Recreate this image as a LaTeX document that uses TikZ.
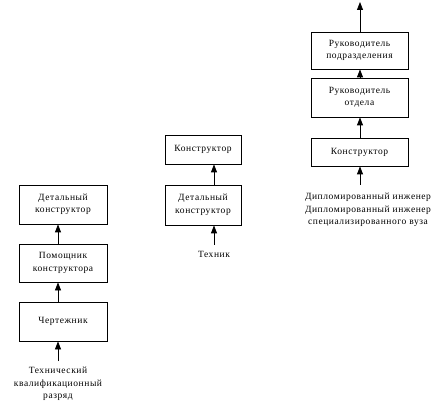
\documentclass[tikz,border=0pt]{standalone}
\usepackage{fontspec}
\setmainfont{Liberation Serif}
\newfontfamily\lblfont{Liberation Serif}[LetterSpace=6]
\usetikzlibrary{arrows.meta}
\begin{document}
\begin{tikzpicture}[x=1pt,y=-1pt,
  box/.style={draw,line width=0.8pt,minimum height=#1,inner sep=0pt,align=center,font=\lblfont\fontsize{9.5}{12.5}\selectfont},
  lbl/.style={align=center,inner sep=0pt,font=\lblfont\fontsize{9.5}{12.5}\selectfont},
  arr/.style={line width=0.8pt,-{Triangle[width=6pt,length=8pt]}}]
\useasboundingbox (0,0) rectangle (445,409);
% left column
\node[box=39pt,minimum width=88pt] (l1) at (63,204.5) {Детальный\\конструктор};
\node[box=38pt,minimum width=88pt] (l2) at (63,263) {Помощник\\конструктора};
\node[box=39pt,minimum width=88pt] (l3) at (63,321.5) {Чертежник};
\node[lbl,anchor=north] (lt) at (58,367) {Технический\\квалификационный\\разряд};
\coordinate (lc) at (58,361);
\draw[arr] (l2.north -| 58,0) -- (l1.south -| 58,0);
\draw[arr] (l3.north -| 58,0) -- (l2.south -| 58,0);
\draw[arr] (lc) -- (l3.south -| 58,0);
% middle column
\node[box=29pt,minimum width=76pt] (m1) at (203,149.5) {Конструктор};
\node[box=40pt,minimum width=76pt] (m2) at (203,205) {Детальный\\конструктор};
\node[lbl,anchor=north] (mt) at (214,251) {Техник};
\coordinate (mc) at (214,245);
\draw[arr] (m2.north -| 214,0) -- (m1.south -| 214,0);
\draw[arr] (mc) -- (m2.south -| 214,0);
% right column
\node[box=37pt,minimum width=97pt] (r1) at (359.5,50.5) {Руководитель\\подразделения};
\node[box=39pt,minimum width=97pt] (r2) at (359.5,97.5) {Руководитель\\отдела};
\node[box=28pt,minimum width=97pt] (r3) at (359.5,152) {Конструктор};
\node[lbl,anchor=north] (rt) at (368,193) {Дипломированный инженер\\Дипломированный инженер\\специализированного вуза};
\coordinate (rc) at (360,185);
\coordinate (rtop) at (360,2);
\draw[arr] (r1.north -| 360,0) -- (rtop);
\draw[arr] (r2.north -| 360,0) -- (r1.south -| 360,0);
\draw[arr] (r3.north -| 360,0) -- (r2.south -| 360,0);
\draw[arr] (rc) -- (r3.south -| 360,0);
\end{tikzpicture}
\end{document}
